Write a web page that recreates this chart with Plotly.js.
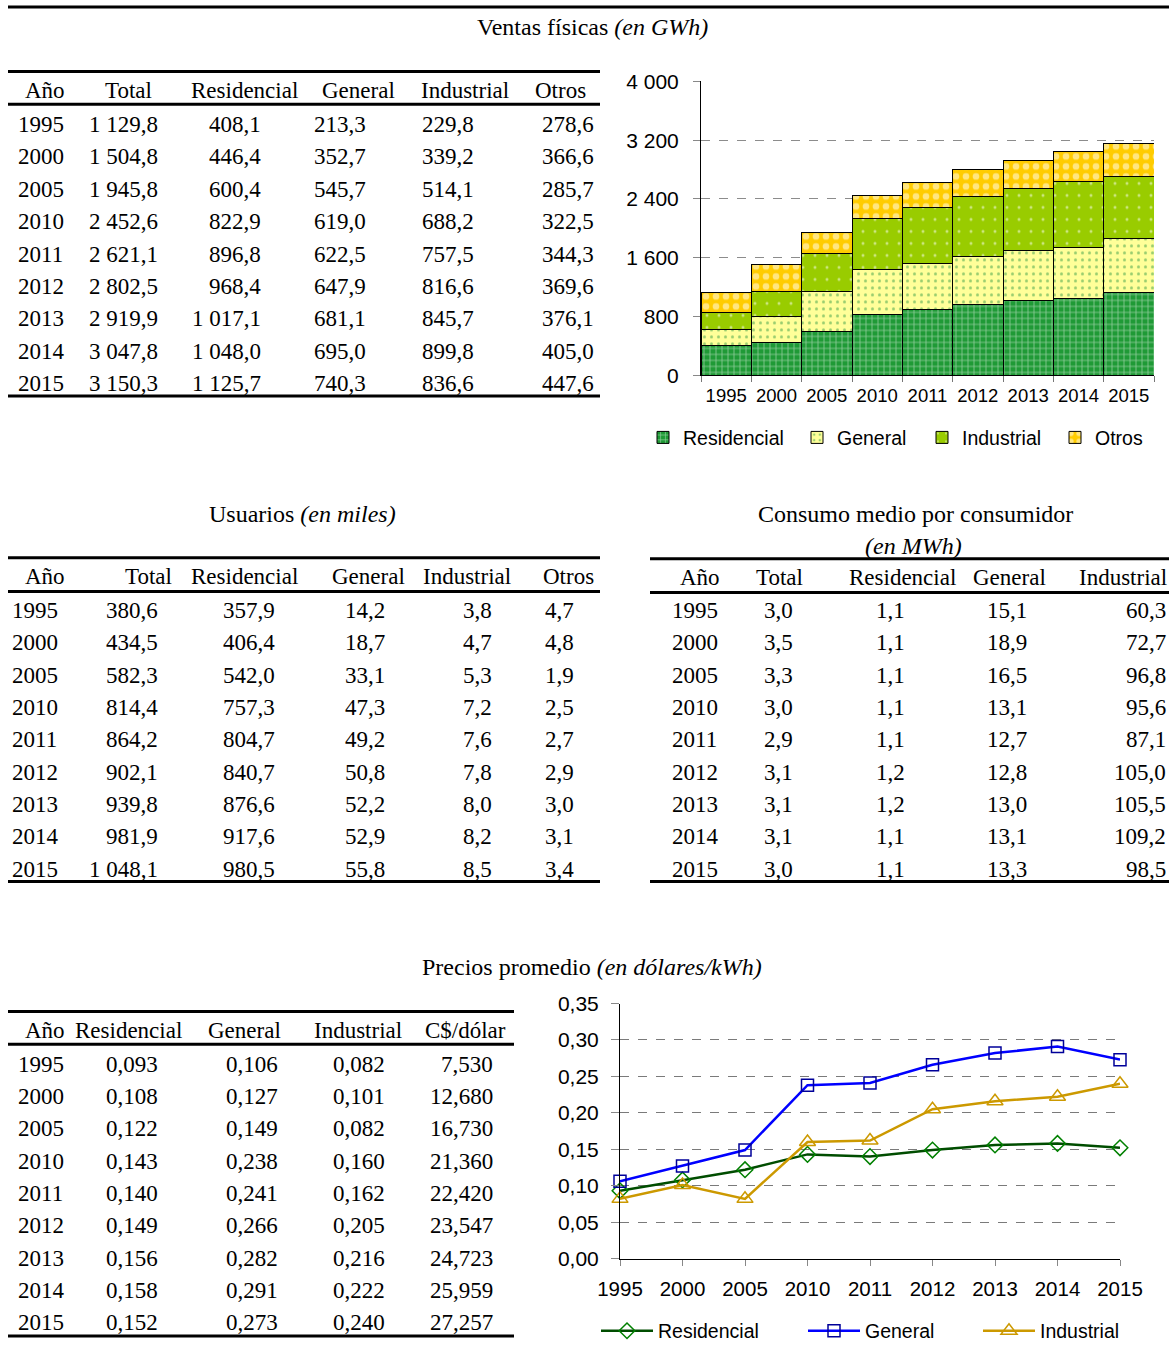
<!DOCTYPE html>
<html><head><meta charset="utf-8">
<script src="https://cdn.plot.ly/plotly-3.0.1.min.js"></script>
<style>html,body{margin:0;padding:0;background:#fff}#chart{width:1169px;height:1351px}</style>
</head><body><div id="chart"></div>
<script>
// ---------- DATA ----------
const years = ['1995','2000','2005','2010','2011','2012','2013','2014','2015'];
// Ventas físicas (GWh)
const ventasTotal       = [1129.8,1504.8,1945.8,2452.6,2621.1,2802.5,2919.9,3047.8,3150.3];
const ventasResidencial = [408.1,446.4,600.4,822.9,896.8,968.4,1017.1,1048.0,1125.7];
const ventasGeneral     = [213.3,352.7,545.7,619.0,622.5,647.9,681.1,695.0,740.3];
const ventasIndustrial  = [229.8,339.2,514.1,688.2,757.5,816.6,845.7,899.8,836.6];
const ventasOtros       = [278.6,366.6,285.7,322.5,344.3,369.6,376.1,405.0,447.6];
// Usuarios (miles)
const usuTotal       = [380.6,434.5,582.3,814.4,864.2,902.1,939.8,981.9,1048.1];
const usuResidencial = [357.9,406.4,542.0,757.3,804.7,840.7,876.6,917.6,980.5];
const usuGeneral     = [14.2,18.7,33.1,47.3,49.2,50.8,52.2,52.9,55.8];
const usuIndustrial  = [3.8,4.7,5.3,7.2,7.6,7.8,8.0,8.2,8.5];
const usuOtros       = [4.7,4.8,1.9,2.5,2.7,2.9,3.0,3.1,3.4];
// Consumo medio por consumidor (MWh)
const conTotal       = [3.0,3.5,3.3,3.0,2.9,3.1,3.1,3.1,3.0];
const conResidencial = [1.1,1.1,1.1,1.1,1.1,1.2,1.2,1.1,1.1];
const conGeneral     = [15.1,18.9,16.5,13.1,12.7,12.8,13.0,13.1,13.3];
const conIndustrial  = [60.3,72.7,96.8,95.6,87.1,105.0,105.5,109.2,98.5];
// Precios promedio (dólares/kWh)
const preResidencial = [0.093,0.108,0.122,0.143,0.140,0.149,0.156,0.158,0.152];
const preGeneral     = [0.106,0.127,0.149,0.238,0.241,0.266,0.282,0.291,0.273];
const preIndustrial  = [0.082,0.101,0.082,0.160,0.162,0.205,0.216,0.222,0.240];
const tipoCambio     = [7.530,12.680,16.730,21.360,22.420,23.547,24.723,25.959,27.257];

// ---------- GEOMETRY HELPERS ----------
const W = 1169, H = 1351;
const px = x => x / W;
const py = y => 1 - y / H;
const SERIF = 'Liberation Serif, Times New Roman, serif';
const SANS = 'Liberation Sans, Arial, sans-serif';
const TF = 23;     // table font size
const TTF = 24;    // section title font size

function fmt(v, d) {
  const s = v.toFixed(d);
  let [i, f] = s.split('.');
  i = i.replace(/\B(?=(\d{3})+(?!\d))/g, ' ');
  return f ? i + ',' + f : i;
}

const annotations = [];
const shapes = [];
function txt(text, x, y, anchor, size) {
  const a = anchor || 'center';
  const dx = a === 'left' ? -2 : (a === 'right' ? 2 : 0);
  annotations.push({text: text, x: px(x + dx), y: py(y + 2), xref: 'paper', yref: 'paper',
    xanchor: a, yanchor: 'middle', showarrow: false,
    font: {family: SERIF, size: size || TF, color: '#000'}});
}
function rule(x0, x1, y, w) {
  shapes.push({type: 'line', xref: 'paper', yref: 'paper', x0: px(x0), x1: px(x1),
    y0: py(y), y1: py(y), line: {color: '#000', width: w || 3}});
}
function table(cfg) {
  txt('Año', cfg.yearHeaderX, cfg.headerY);
  years.forEach((yr, r) => txt(yr, cfg.yearX, cfg.rowY0 + r * cfg.step, 'left'));
  cfg.cols.forEach(c => {
    txt(c.h, c.hx, cfg.headerY);
    c.vals.forEach((v, r) => txt(fmt(v, c.d), c.x, cfg.rowY0 + r * cfg.step, 'right'));
  });
  cfg.rules.forEach(y => rule(cfg.rx0, cfg.rx1, y));
}

// Titles
rule(8, 1169, 7);
txt('Ventas físicas <i>(en GWh)</i>', 592, 25, 'center', TTF);
txt('Usuarios <i>(en miles)</i>', 302, 516, 'center', TTF);
txt('Consumo medio por consumidor', 915, 516, 'center', TTF);
txt('<i>(en MWh)</i>', 913, 548, 'center', TTF);
txt('Precios promedio <i>(en dólares/kWh)</i>', 592, 972, 'center', TTF);

// Table 1: Ventas físicas
table({yearX: 18, yearHeaderX: 45, headerY: 89, rowY0: 123.5, step: 32.6, rx0: 8, rx1: 600,
  rules: [72, 105, 399],
  cols: [
    {h: 'Total', hx: 128, x: 158, vals: ventasTotal, d: 1},
    {h: 'Residencial', hx: 245, x: 261, vals: ventasResidencial, d: 1},
    {h: 'General', hx: 358, x: 366, vals: ventasGeneral, d: 1},
    {h: 'Industrial', hx: 465, x: 474, vals: ventasIndustrial, d: 1},
    {h: 'Otros', hx: 560, x: 594, vals: ventasOtros, d: 1}
  ]});
// Table 2: Usuarios
table({yearX: 12, yearHeaderX: 45, headerY: 579, rowY0: 613, step: 32.6, rx0: 8, rx1: 600,
  rules: [562, 596, 888],
  cols: [
    {h: 'Total', hx: 148, x: 158, vals: usuTotal, d: 1},
    {h: 'Residencial', hx: 244, x: 275, vals: usuResidencial, d: 1},
    {h: 'General', hx: 368, x: 385, vals: usuGeneral, d: 1},
    {h: 'Industrial', hx: 467, x: 492, vals: usuIndustrial, d: 1},
    {h: 'Otros', hx: 568, x: 574, vals: usuOtros, d: 1}
  ]});
// Table 3: Consumo medio
table({yearX: 672, yearHeaderX: 700, headerY: 580, rowY0: 613, step: 32.6, rx0: 650, rx1: 1169,
  rules: [563, 597, 888],
  cols: [
    {h: 'Total', hx: 780, x: 793, vals: conTotal, d: 1},
    {h: 'Residencial', hx: 902, x: 905, vals: conResidencial, d: 1},
    {h: 'General', hx: 1009, x: 1027, vals: conGeneral, d: 1},
    {h: 'Industrial', hx: 1123, x: 1166, vals: conIndustrial, d: 1}
  ]});
// Table 4: Precios
table({yearX: 18, yearHeaderX: 45, headerY: 1036, rowY0: 1070, step: 32.6, rx0: 8, rx1: 514,
  rules: [1019, 1052, 1346],
  cols: [
    {h: 'Residencial', hx: 128, x: 158, vals: preResidencial, d: 3},
    {h: 'General', hx: 245, x: 278, vals: preGeneral, d: 3},
    {h: 'Industrial', hx: 358, x: 385, vals: preIndustrial, d: 3},
    {h: 'C$/dólar', hx: 465, x: 493, vals: tipoCambio, d: 3}
  ]});

// ---------- TRACES ----------
const barLine = {color: '#000', width: 1};
const traces = [
  {type: 'bar', name: 'Residencial', x: years, y: ventasResidencial, xaxis: 'x', yaxis: 'y', legend: 'legend',
   marker: {color: '#1f9a36', line: barLine,
     pattern: {shape: '+', fgcolor: '#ffffff', size: 6, solidity: 0.25, fillmode: 'overlay'}}},
  {type: 'bar', name: 'General', x: years, y: ventasGeneral, xaxis: 'x', yaxis: 'y', legend: 'legend2',
   marker: {color: '#ffff99', line: barLine,
     pattern: {shape: '.', fgcolor: '#2f9a44', size: 7, solidity: 0.15, fillmode: 'overlay'}}},
  {type: 'bar', name: 'Industrial', x: years, y: ventasIndustrial, xaxis: 'x', yaxis: 'y', legend: 'legend3',
   marker: {color: '#99cc00', line: barLine,
     pattern: {shape: '.', fgcolor: '#ffffff', size: 12, solidity: 0.05, fillmode: 'overlay'}}},
  {type: 'bar', name: 'Otros', x: years, y: ventasOtros, xaxis: 'x', yaxis: 'y', legend: 'legend4',
   marker: {color: '#ffcc00', line: barLine,
     pattern: {shape: '.', fgcolor: '#ffffff', size: 10, solidity: 0.35, fillmode: 'overlay'}}},
  {type: 'scatter', mode: 'lines+markers', name: 'Residencial', x: years, y: preResidencial,
   xaxis: 'x2', yaxis: 'y2', legend: 'legend5', cliponaxis: false,
   line: {color: '#004d00', width: 2.5},
   marker: {symbol: 'diamond-open', size: 12, color: '#008000', line: {width: 1.5, color: '#008000'}}},
  {type: 'scatter', mode: 'lines+markers', name: 'General', x: years, y: preGeneral,
   xaxis: 'x2', yaxis: 'y2', legend: 'legend6', cliponaxis: false,
   line: {color: '#0000ff', width: 2.5},
   marker: {symbol: 'square-open', size: 12, color: '#000099', line: {width: 1.5, color: '#000099'}}},
  {type: 'scatter', mode: 'lines+markers', name: 'Industrial', x: years, y: preIndustrial,
   xaxis: 'x2', yaxis: 'y2', legend: 'legend7', cliponaxis: false,
   line: {color: '#cc9900', width: 2.5},
   marker: {symbol: 'triangle-up-open', size: 14, color: '#cc9900', line: {width: 1.5, color: '#cc9900'}}}
];

function leg(x, y, itemwidth) {
  return {x: px(x), y: py(y), xanchor: 'left', yanchor: 'middle', orientation: 'h',
    bgcolor: 'rgba(0,0,0,0)', borderwidth: 0, itemwidth: itemwidth || 30,
    font: {family: SANS, size: 19.5, color: '#000'}};
}

const tf = s => ({family: SANS, size: s, color: '#000'});
const layout = {
  width: W, height: H, autosize: false,
  margin: {l: 0, r: 0, t: 0, b: 0, pad: 0},
  paper_bgcolor: '#fff', plot_bgcolor: 'rgba(0,0,0,0)',
  separators: ', ',
  barmode: 'stack', bargap: 0,
  showlegend: true,
  font: {family: SANS, size: 19, color: '#000'},
  xaxis: {domain: [px(701), px(1154)], anchor: 'y', type: 'category',
    showline: true, linecolor: '#000', linewidth: 1, mirror: false,
    ticks: 'outside', tickson: 'boundaries', ticklen: 6, tickcolor: '#777',
    showgrid: false, tickfont: tf(18.5), tickangle: 0, ticklabelstandoff: 4, fixedrange: true},
  yaxis: {domain: [py(378), py(82)], anchor: 'x', range: [0, 4000], dtick: 800, tick0: 0,
    tickformat: ',d', showline: true, linecolor: '#000', linewidth: 1,
    ticks: 'outside', ticklen: 7, tickcolor: '#888',
    showgrid: true, gridcolor: '#8c8c8c', griddash: 'dash', gridwidth: 1,
    zeroline: false, tickfont: tf(21), ticklabelstandoff: 10, fixedrange: true},
  xaxis2: {domain: [px(620), px(1120)], anchor: 'y2', type: 'category', range: [0, 8],
    showline: true, linecolor: '#000', linewidth: 1,
    ticks: 'outside', ticklen: 6, tickcolor: '#888',
    showgrid: false, tickfont: tf(20.5), tickangle: 0, ticklabelstandoff: 6, fixedrange: true},
  yaxis2: {domain: [py(1268), py(1011)], anchor: 'x2', range: [0, 0.35], dtick: 0.05, tick0: 0,
    tickformat: '.2f', showline: true, linecolor: '#000', linewidth: 1,
    ticks: 'outside', ticklen: 8, tickcolor: '#888',
    showgrid: true, gridcolor: '#7a7a7a', griddash: 'dash', gridwidth: 1,
    zeroline: false, tickfont: tf(21), ticklabelstandoff: 8, fixedrange: true},
  legend:  leg(643, 441),
  legend2: leg(797, 441),
  legend3: leg(922, 441),
  legend4: leg(1055, 441),
  legend5: leg(596, 1341, 52),
  legend6: leg(803, 1341, 52),
  legend7: leg(978, 1341, 52),
  annotations: annotations,
  shapes: shapes
};

Plotly.newPlot('chart', traces, layout, {displayModeBar: false, staticPlot: true});
</script>
</body></html>
